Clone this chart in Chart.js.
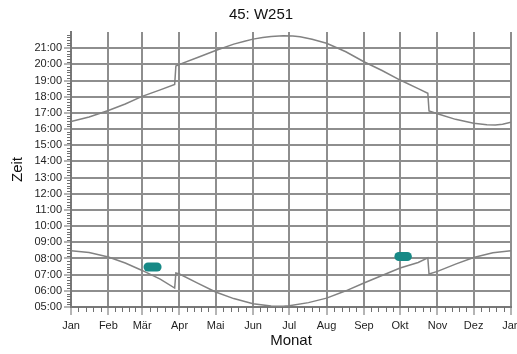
<!DOCTYPE html>
<html>
<head>
<meta charset="utf-8">
<title>45: W251</title>
<script src="https://cdn.jsdelivr.net/npm/chart.js@4/dist/chart.umd.min.js"></script>
<style>
    html, body { margin: 0; padding: 0; background: #fff; }
    canvas { display: block; }
</style>
</head>
<body>
<canvas id="chart" width="517" height="354"></canvas>
<script>
// x = day of year (0 = 1 Jan), y = hours
const monthLabels = ['Jan', 'Feb', 'Mär', 'Apr', 'Mai', 'Jun', 'Jul', 'Aug', 'Sep', 'Okt', 'Nov', 'Dez', 'Jan'];
const monthStarts = [0, 31, 59, 90, 120, 151, 181, 212, 243, 273, 304, 334, 365];

const sunsetDays = [0, 15, 31, 45, 59, 74, 86, 87, 90, 105, 120, 135, 144, 151, 159, 166, 176, 184, 190, 200, 212, 228, 243, 258, 273, 288, 296, 297, 304, 319, 334, 345, 352, 358, 365];
const sunsetHours = [16.46, 16.75, 17.15, 17.55, 18.02, 18.42, 18.75, 19.9, 20.0, 20.42, 20.86, 21.25, 21.43, 21.56, 21.66, 21.72, 21.77, 21.76, 21.7, 21.55, 21.3, 20.78, 20.16, 19.62, 19.03, 18.5, 18.21, 17.12, 16.95, 16.6, 16.36, 16.27, 16.25, 16.3, 16.42];

const sunriseDays = [0, 15, 31, 45, 59, 74, 86, 87, 90, 105, 120, 135, 151, 166, 176, 181, 197, 212, 228, 243, 258, 273, 288, 296, 297, 304, 319, 334, 350, 365];
const sunriseHours = [8.47, 8.37, 8.09, 7.72, 7.26, 6.72, 6.17, 7.1, 7.04, 6.48, 5.93, 5.52, 5.2, 5.06, 5.04, 5.08, 5.27, 5.55, 6.0, 6.48, 6.95, 7.41, 7.75, 8.04, 7.04, 7.2, 7.65, 8.06, 8.35, 8.47];

const markerStart = [63.9, 272];
const markerEnd = [71.4, 279];
const markerHours = [7.47, 8.12];

const yMin = 5;
const yMax = 22;
const lastHour = 21;

const font = 'Liberation Sans, Arial, Helvetica, sans-serif';
const lineColor = '#828282';
const gridColor = '#8e8e8e';

const toPoints = (days, hours) => days.map((d, i) => ({ x: d, y: hours[i] }));
const hh = (v) => `${v < 10 ? '0' : ''}${v}:00`;

const markerSets = markerStart.map((start, i) => ({
    label: `Markierung ${i + 1}`,
    data: [{ x: start, y: markerHours[i] }, { x: markerEnd[i], y: markerHours[i] }],
    borderColor: '#178986',
    backgroundColor: '#178986',
    borderWidth: 9,
    borderCapStyle: 'round',
    pointRadius: 0,
}));

// short ticks between the labelled ones
const minorTicks = {
    id: 'minorTicks',
    afterDraw(chart) {
        const { ctx, scales: { x, y } } = chart;
        ctx.save();
        ctx.strokeStyle = '#6f6f6f';
        ctx.lineWidth = 1;
        ctx.beginPath();
        for (let i = 0; i < monthStarts.length - 1; i++) {
            const len = monthStarts[i + 1] - monthStarts[i];
            for (let k = 1; k < 5; k++) {
                const px = Math.round(x.getPixelForValue(monthStarts[i] + (k * len) / 5)) + 0.5;
                ctx.moveTo(px, y.bottom);
                ctx.lineTo(px, y.bottom + 5);
            }
        }
        for (let m = yMin * 60 + 10; m < yMax * 60; m += 10) {
            if (m % 60 === 0) continue;
            const py = Math.round(y.getPixelForValue(m / 60)) + 0.5;
            ctx.moveTo(x.left - 4, py);
            ctx.lineTo(x.left, py);
        }
        ctx.stroke();
        ctx.restore();
    },
};

new Chart(document.getElementById('chart'), {
    type: 'line',
    data: {
        datasets: [
            ...markerSets,
            {
                label: 'Sonnenuntergang',
                data: toPoints(sunsetDays, sunsetHours),
                borderColor: lineColor,
                borderWidth: 1.5,
                pointRadius: 0,
            },
            {
                label: 'Sonnenaufgang',
                data: toPoints(sunriseDays, sunriseHours),
                borderColor: lineColor,
                borderWidth: 1.5,
                pointRadius: 0,
            },
        ],
    },
    options: {
        responsive: false,
        animation: false,
        devicePixelRatio: 1,
        layout: { padding: { left: 5, top: 0, right: 0, bottom: 0 } },
        scales: {
            x: {
                type: 'linear',
                min: 0,
                max: 365,
                afterBuildTicks: (scale) => {
                    scale.ticks = monthStarts.map((v) => ({ value: v }));
                },
                afterFit: (scale) => {
                    scale.height = 47;
                    scale.paddingLeft = 0;
                    scale.paddingRight = 6;
                },
                ticks: {
                    autoSkip: false,
                    maxRotation: 0,
                    padding: 4,
                    color: '#1e1e1e',
                    font: { family: font, size: 11 },
                    callback: (value, index) => monthLabels[index],
                },
                grid: {
                    color: gridColor,
                    lineWidth: 2,
                    tickColor: '#6a6a6a',
                    tickWidth: 1,
                    tickLength: 8,
                },
                border: { color: '#787878', width: 2 },
                title: {
                    display: true,
                    text: 'Monat',
                    color: '#111',
                    font: { family: font, size: 15 },
                    padding: { top: 0, bottom: 4 },
                },
            },
            y: {
                min: yMin,
                max: yMax,
                afterBuildTicks: (scale) => {
                    const ticks = [];
                    for (let h = yMin; h <= lastHour; h++) ticks.push({ value: h });
                    scale.ticks = ticks;
                },
                afterFit: (scale) => {
                    scale.width = 66;
                },
                ticks: {
                    padding: 2,
                    color: '#1e1e1e',
                    font: { family: font, size: 11 },
                    callback: (value) => hh(value),
                },
                grid: {
                    color: gridColor,
                    lineWidth: 2,
                    tickColor: '#6a6a6a',
                    tickWidth: 1,
                    tickLength: 7,
                },
                border: { color: '#787878', width: 2 },
                title: {
                    display: true,
                    text: 'Zeit',
                    color: '#111',
                    font: { family: font, size: 15 },
                    padding: { top: 4, bottom: 0 },
                },
            },
        },
        plugins: {
            legend: { display: false },
            tooltip: { enabled: false },
            title: {
                display: true,
                text: '45: W251',
                color: '#111',
                font: { family: font, size: 15, weight: 'normal' },
                padding: { top: 6, bottom: 8 },
            },
        },
    },
    plugins: [minorTicks],
});
</script>
</body>
</html>
